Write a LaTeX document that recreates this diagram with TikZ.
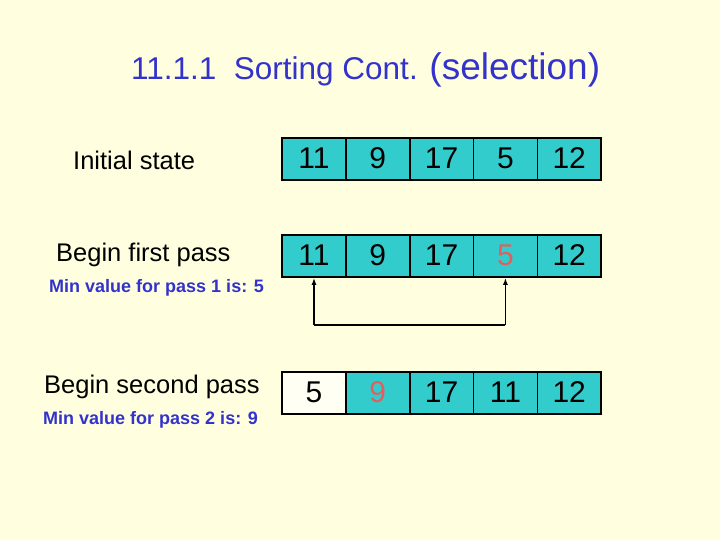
\documentclass[tikz,border=0pt]{standalone}
\usepackage{fontspec}
\setmainfont{Liberation Sans}
\usetikzlibrary{arrows.meta, positioning}
\definecolor{bgcream}{RGB}{255,255,224}
\definecolor{cellteal}{RGB}{51,204,204}
\definecolor{titleblue}{RGB}{51,51,204}
\definecolor{pickred}{RGB}{224,96,96}

\tikzset{
  cell/.style={draw, line width=1.6pt, fill=cellteal, minimum width=63.8pt,
    minimum height=42pt, inner sep=0pt, text height=19pt, text depth=0pt,
    font=\fontsize{30}{30}\selectfont},
  rowlabel/.style={font=\fontsize{25.5}{26}\selectfont},
  minlabel/.style={font=\bfseries\fontsize{18}{18}\selectfont, text=titleblue}
}

\begin{document}
\begin{tikzpicture}[x=1pt, y=-1pt, >={Latex[length=7pt,width=5pt]}]

% Background
\fill[bgcream] (0,0) rectangle (720,540);
\useasboundingbox (0,0) rectangle (720,540);

% Title
\node[anchor=base west, inner sep=0pt, text=titleblue, font=\fontsize{31.5}{32}\selectfont] (title) at (131,80)
    {11.1.1\ \ Sorting Cont. {\fontsize{37}{37}\selectfont(selection)}};

% Row labels
\node[rowlabel, anchor=base west, inner sep=0pt] (lblinit) at (73,170) {Initial state};
\node[rowlabel, anchor=base west, inner sep=0pt] (lblfirst) at (56,261) {Begin first pass};
\node[minlabel, anchor=base west, inner sep=0pt] (minone) at (49,292) {Min value for pass 1 is: 5};
\node[rowlabel, anchor=base west, inner sep=0pt] (lblsecond) at (44,393) {Begin second pass};
\node[minlabel, anchor=base west, inner sep=0pt] (mintwo) at (43,424) {Min value for pass 2 is: 9};

% Arrays
\foreach \v [count=\i] in {11,9,17,5,12}
  \node[cell] (a\i) at (314+63.8*\i-63.8,159) {\v};
\foreach \v [count=\i] in {11,9,17,{\textcolor{pickred}{5}},12}
  \node[cell] (b\i) at (314+63.8*\i-63.8,256) {\v};
\foreach \v [count=\i] in {5,{\textcolor{pickred}{9}},17,11,12}
  \node[cell] (c\i) at (314+63.8*\i-63.8,393) {\v};
\node[cell, fill=white!60!bgcream] (c1) at (c1) {5};

% Swap connector
\coordinate (swapl) at (b1.south |- 0,325);
\coordinate (swapr) at (b4.south |- 0,325);
\draw[->, line width=1.4pt] (swapl) -- (b1.south);
\draw[->, line width=1.4pt] (swapr) -- (b4.south);
\draw[line width=1.4pt] (swapl) -- (swapr);

\end{tikzpicture}
\end{document}
